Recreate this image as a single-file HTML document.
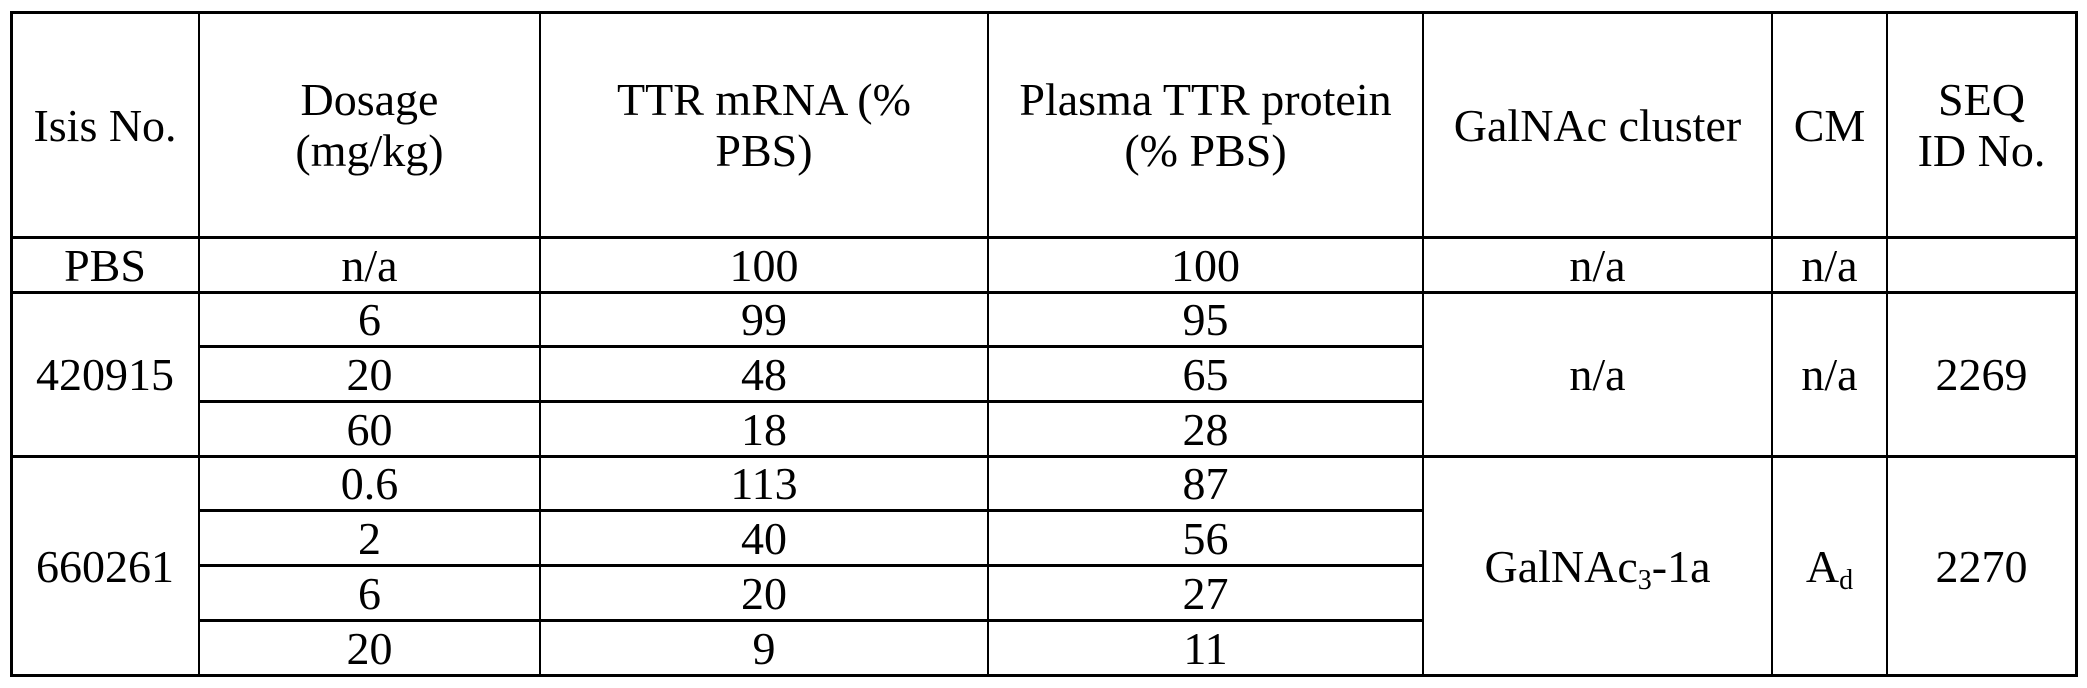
<!DOCTYPE html>
<html><head><meta charset="utf-8"><style>
html,body{margin:0;padding:0;background:#fff;}
#c{position:relative;width:2087px;height:688px;overflow:hidden;background:#fff;font-family:"Liberation Serif",serif;font-size:46px;color:#000;}
.h{position:absolute;height:3px;background:#000;}
.v{position:absolute;width:2px;background:#000;}
.t{position:absolute;display:flex;align-items:center;justify-content:center;text-align:center;line-height:51px;}
.t span{display:inline-block;white-space:nowrap;}
sub{font-size:28px;vertical-align:-7px;line-height:0;}
</style></head><body><div id="c">
<div class="h" style="left:10px;top:11px;width:2068px"></div>
<div class="h" style="left:10px;top:236px;width:2068px"></div>
<div class="h" style="left:10px;top:291px;width:2068px"></div>
<div class="h" style="left:199px;top:345px;width:1225px"></div>
<div class="h" style="left:199px;top:400px;width:1225px"></div>
<div class="h" style="left:10px;top:455px;width:2068px"></div>
<div class="h" style="left:199px;top:509px;width:1225px"></div>
<div class="h" style="left:199px;top:564px;width:1225px"></div>
<div class="h" style="left:199px;top:619px;width:1225px"></div>
<div class="h" style="left:10px;top:674px;width:2068px"></div>
<div class="v" style="left:10px;top:11px;height:666px;width:3px"></div>
<div class="v" style="left:198px;top:11px;height:666px"></div>
<div class="v" style="left:539px;top:11px;height:666px"></div>
<div class="v" style="left:987px;top:11px;height:666px"></div>
<div class="v" style="left:1422px;top:11px;height:666px"></div>
<div class="v" style="left:1771px;top:11px;height:666px"></div>
<div class="v" style="left:1886px;top:11px;height:666px"></div>
<div class="v" style="left:2075px;top:11px;height:666px;width:3px"></div>
<div class="t" style="left:12px;top:14px;width:186px;height:222px"><span>Isis No.</span></div>
<div class="t" style="left:200px;top:14px;width:339px;height:222px"><span>Dosage<br>(mg/kg)</span></div>
<div class="t" style="left:541px;top:14px;width:446px;height:222px"><span>TTR mRNA (%<br>PBS)</span></div>
<div class="t" style="left:989px;top:14px;width:433px;height:222px"><span>Plasma TTR protein<br>(% PBS)</span></div>
<div class="t" style="left:1424px;top:14px;width:347px;height:222px"><span>GalNAc cluster</span></div>
<div class="t" style="left:1773px;top:14px;width:113px;height:222px"><span>CM</span></div>
<div class="t" style="left:1888px;top:14px;width:187px;height:222px"><span>SEQ<br>ID No.</span></div>
<div class="t" style="left:12px;top:239px;width:186px;height:52px"><span>PBS</span></div>
<div class="t" style="left:200px;top:239px;width:339px;height:52px"><span>n/a</span></div>
<div class="t" style="left:541px;top:239px;width:446px;height:52px"><span>100</span></div>
<div class="t" style="left:989px;top:239px;width:433px;height:52px"><span>100</span></div>
<div class="t" style="left:1424px;top:239px;width:347px;height:52px"><span>n/a</span></div>
<div class="t" style="left:1773px;top:239px;width:113px;height:52px"><span>n/a</span></div>
<div class="t" style="left:12px;top:294px;width:186px;height:161px"><span>420915</span></div>
<div class="t" style="left:200px;top:294px;width:339px;height:51px"><span>6</span></div>
<div class="t" style="left:541px;top:294px;width:446px;height:51px"><span>99</span></div>
<div class="t" style="left:989px;top:294px;width:433px;height:51px"><span>95</span></div>
<div class="t" style="left:200px;top:348px;width:339px;height:52px"><span>20</span></div>
<div class="t" style="left:541px;top:348px;width:446px;height:52px"><span>48</span></div>
<div class="t" style="left:989px;top:348px;width:433px;height:52px"><span>65</span></div>
<div class="t" style="left:200px;top:403px;width:339px;height:52px"><span>60</span></div>
<div class="t" style="left:541px;top:403px;width:446px;height:52px"><span>18</span></div>
<div class="t" style="left:989px;top:403px;width:433px;height:52px"><span>28</span></div>
<div class="t" style="left:1424px;top:294px;width:347px;height:161px"><span>n/a</span></div>
<div class="t" style="left:1773px;top:294px;width:113px;height:161px"><span>n/a</span></div>
<div class="t" style="left:1888px;top:294px;width:187px;height:161px"><span>2269</span></div>
<div class="t" style="left:12px;top:458px;width:186px;height:216px"><span>660261</span></div>
<div class="t" style="left:200px;top:458px;width:339px;height:51px"><span>0.6</span></div>
<div class="t" style="left:541px;top:458px;width:446px;height:51px"><span>113</span></div>
<div class="t" style="left:989px;top:458px;width:433px;height:51px"><span>87</span></div>
<div class="t" style="left:200px;top:512px;width:339px;height:52px"><span>2</span></div>
<div class="t" style="left:541px;top:512px;width:446px;height:52px"><span>40</span></div>
<div class="t" style="left:989px;top:512px;width:433px;height:52px"><span>56</span></div>
<div class="t" style="left:200px;top:567px;width:339px;height:52px"><span>6</span></div>
<div class="t" style="left:541px;top:567px;width:446px;height:52px"><span>20</span></div>
<div class="t" style="left:989px;top:567px;width:433px;height:52px"><span>27</span></div>
<div class="t" style="left:200px;top:622px;width:339px;height:52px"><span>20</span></div>
<div class="t" style="left:541px;top:622px;width:446px;height:52px"><span>9</span></div>
<div class="t" style="left:989px;top:622px;width:433px;height:52px"><span>11</span></div>
<div class="t" style="left:1424px;top:458px;width:347px;height:216px"><span>GalNAc<sub>3</sub>-1a</span></div>
<div class="t" style="left:1773px;top:458px;width:113px;height:216px"><span>A<sub>d</sub></span></div>
<div class="t" style="left:1888px;top:458px;width:187px;height:216px"><span>2270</span></div>
</div></body></html>
